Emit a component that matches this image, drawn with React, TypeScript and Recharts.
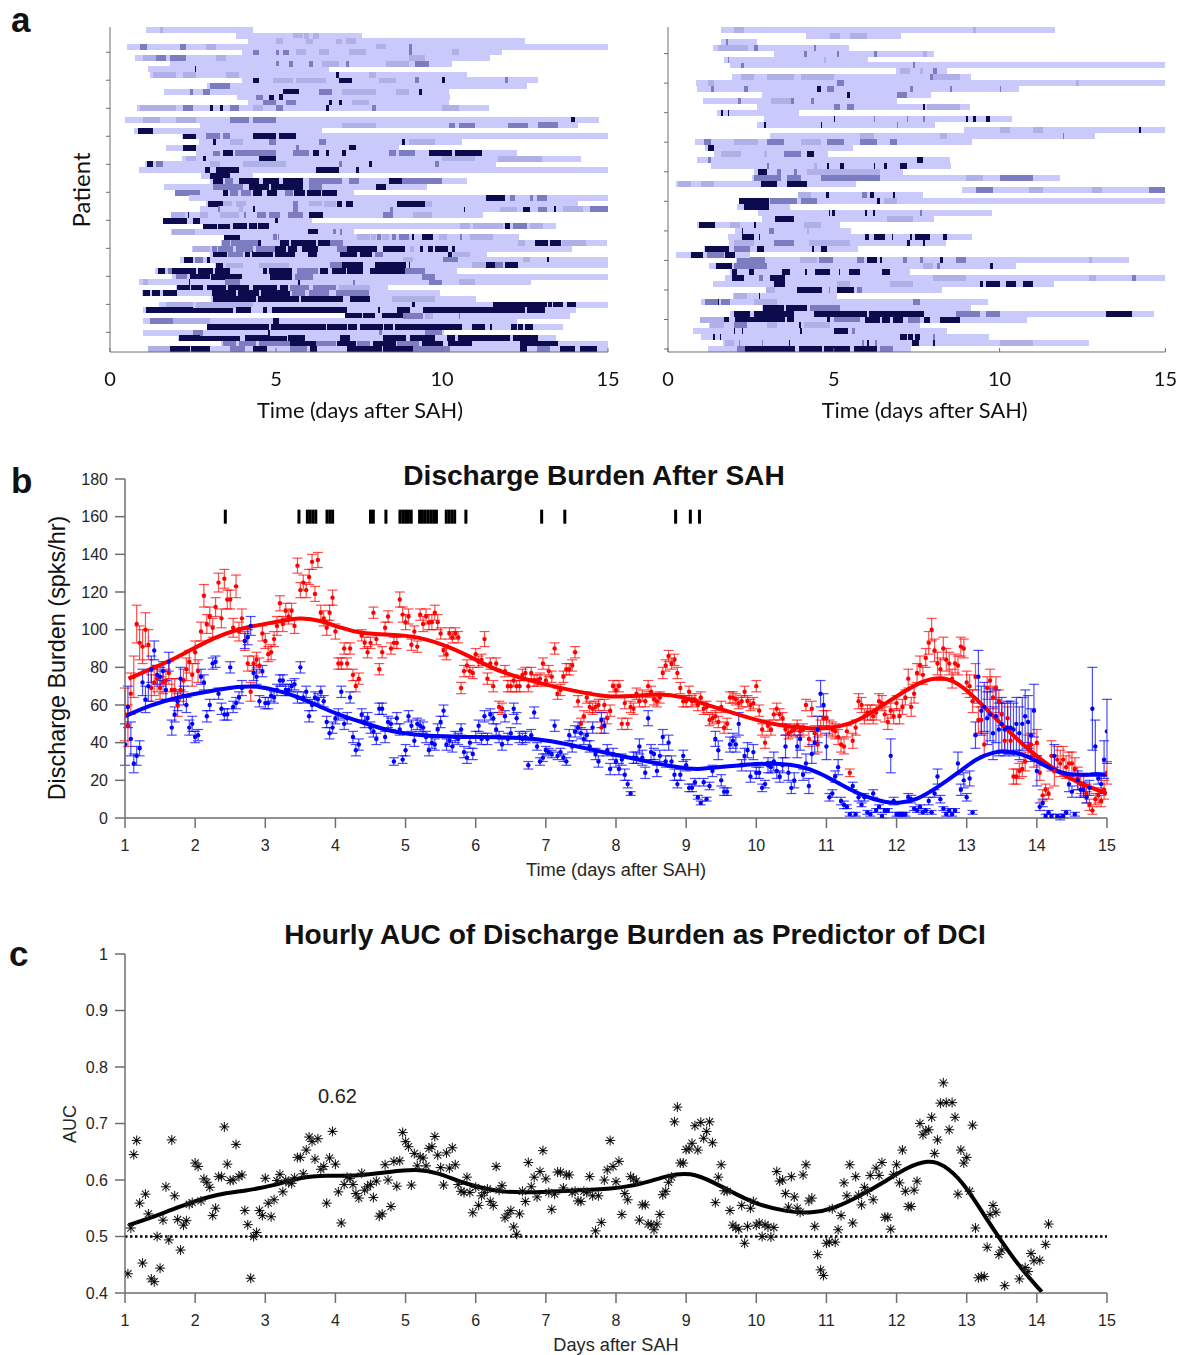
import React from 'react'
import {
  Bar,
  BarChart,
  ComposedChart,
  ErrorBar,
  Line,
  ReferenceLine,
  Scatter,
  XAxis,
  YAxis,
} from 'recharts'

const SANS = '"Liberation Sans", Arial, sans-serif'
const HUMANIST = 'Lato, "Open Sans", sans-serif'
const AXIS_GRAY = '#6e6e6e'
const BASE_BAR = '#c9c9fb'
const LEVELS = ['', '#b0b0e8', '#7c7cc0', '#0b0b4d']

// panel a: [first day, last day] of each patient's recording, top to bottom
const leftSpans = [
  [1.08, 4.3], [3.8, 7.6], [4.16, 12.5], [0.5, 15], [3.97, 11.8], [0.75, 11.45], [1.82, 10.3], [1.13, 6.6],
  [1.2, 10.76], [3.97, 12.9], [2.92, 12.56], [1.63, 10.2], [3.83, 10.24], [4.16, 10.2], [0.8, 11.43], [0, 0],
  [0.46, 14.74], [2.7, 14.1], [0.73, 6.4], [2.18, 15], [2.67, 10.6], [1.68, 8.69], [2.6, 12.26], [2.18, 14.2],
  [1.04, 11.63], [0.87, 15], [2.75, 4.3], [3, 10.76], [1.63, 9.56], [1.97, 7.34], [2.37, 15], [2.9, 14.1],
  [2.7, 15], [1.85, 11.24], [1.59, 6.09], [2.8, 13.43], [1.85, 7.34], [3.44, 12.32], [3.33, 14.97], [2.48, 13.92],
  [3, 11.37], [2.1, 15], [3.17, 15], [1.35, 10.44], [1.87, 15], [0.87, 12.67], [1.98, 8.38], [0.97, 9.93],
  [3.05, 11.03], [1.47, 15], [0.99, 14.05], [7.07, 13.87], [0.99, 12.26], [2.93, 13.65], [0.99, 10.05], [2.06, 13.42],
  [3.35, 15], [1.13, 15],
]

// flat triples per patient: burst start, burst end, intensity level 1-3
const leftBursts = [
  [1.5, 1.6, 1],
  [5.5, 5.8, 1, 5.85, 6, 1, 6.1, 6.3, 1],
  [5, 5.2, 1, 5.9, 6.1, 1, 6.8, 7, 1, 7.1, 7.4, 1],
  [0.9, 1.1, 2, 2.1, 2.3, 2, 2.9, 3.2, 1, 8, 8.3, 1, 9, 9.1, 2],
  [4.3, 4.5, 2, 5, 5.1, 2, 5.2, 5.4, 2, 5.6, 5.9, 1, 6.3, 6.6, 1, 7.2, 7.7, 1, 9, 9.1, 2, 10.3, 10.5, 1],
  [1, 1.4, 1, 1.4, 1.7, 2, 1.8, 2.3, 2, 3.2, 3.5, 1, 9, 9.5, 1],
  [5, 5.1, 2, 5.4, 5.5, 2, 6, 6.1, 2, 6.4, 6.9, 1, 7.1, 7.2, 2, 8.3, 9, 1, 9.2, 9.6, 2],
  [2.55, 2.6, 3],
  [1.3, 2, 1, 2.2, 2.6, 1, 3.5, 3.9, 1, 6.8, 6.9, 3, 7.8, 8, 1],
  [4.3, 4.5, 3, 4.9, 5.5, 1, 5.6, 6.5, 1, 6.9, 7.3, 3, 8.1, 8.6, 1, 9.2, 9.3, 2, 10, 10.1, 3, 11.9, 12, 2],
  [3, 3.6, 2],
  [2.4, 2.5, 2, 2.8, 3, 2, 5.2, 5.7, 3, 6.3, 6.7, 2, 7, 8, 1, 8.6, 9, 1, 9.3, 9.4, 3],
  [4.4, 4.6, 2, 4.8, 4.95, 3, 5.1, 5.2, 3],
  [4.6, 5, 2, 5.3, 5.6, 2, 6.6, 6.7, 3, 6.9, 7, 3, 7.3, 7.8, 1],
  [0.9, 2, 1, 2.2, 2.5, 2, 3, 3.1, 3, 3.3, 3.4, 3, 3.6, 3.9, 2, 4.3, 4.6, 1, 5, 5.2, 2, 6.5, 6.6, 3, 7.9, 8, 2, 10, 10.5, 1],
  [],
  [1, 1.5, 1, 2, 2.6, 1, 3.6, 4.2, 2, 4.3, 5, 2, 13.9, 14, 3],
  [7, 8, 1, 10.2, 10.4, 2, 10.5, 11, 2, 12, 12.6, 2, 12.9, 13.5, 2],
  [0.85, 1.3, 3],
  [2.2, 2.6, 3, 2.9, 3.3, 2, 3.4, 3.6, 2, 4.3, 5, 3, 5.1, 5.6, 3],
  [3.1, 3.2, 3, 3.6, 4, 1, 4.8, 5, 2, 6.3, 6.5, 2, 8.8, 8.9, 3, 9, 9.8, 1],
  [2.2, 2.6, 3, 5.6, 5.7, 2, 7.2, 7.4, 3],
  [3.1, 3.3, 2, 3.4, 3.7, 3, 3.75, 5, 2, 5.5, 6, 2, 6.1, 6.3, 3, 6.5, 6.6, 3, 7, 7.1, 3, 8.4, 8.6, 2, 8.7, 9.2, 2, 9.6, 10.3, 3, 10.4, 11.2, 3],
  [2.3, 2.6, 1, 2.8, 2.9, 3, 4.5, 5, 3, 10, 11, 1, 11.7, 13, 1],
  [1.1, 1.3, 3, 1.4, 1.6, 2, 3, 3.3, 1, 4, 5.3, 1, 6.9, 7, 2, 7.8, 7.9, 3, 9.8, 9.9, 2],
  [2.85, 3, 3, 3.2, 3.9, 3, 6.2, 6.9, 3, 7.4, 7.5, 3],
  [3, 3.6, 3],
  [3.1, 3.4, 3, 3.45, 3.7, 2, 3.9, 4.5, 3, 4.6, 5.1, 3, 5.2, 5.8, 3, 6, 7, 2, 7.2, 7.5, 2, 8.4, 8.8, 3, 8.8, 10, 2],
  [3.1, 4, 2, 4.2, 4.8, 3, 4.85, 5.8, 3, 6, 6.4, 2, 8, 8.3, 3],
  [1.96, 2.71, 2, 3.41, 3.56, 3, 3.6, 3.85, 2, 3.95, 4.25, 2, 4.3, 4.57, 3, 4.72, 5.02, 3, 5.27, 5.5, 2, 5.55, 5.87, 3, 5.92, 6.37, 3, 6.4, 6.83, 3],
  [11.34, 11.9, 3, 12.05, 12.2, 2, 12.65, 12.75, 2, 12.85, 13.15, 2],
  [2.96, 3.41, 3, 3.41, 3.67, 1, 3.8, 4.1, 1, 5.52, 5.67, 2, 6, 6.4, 1, 6.45, 6.8, 1, 6.85, 6.98, 3, 7.11, 7.31, 3, 8.63, 9.49, 3, 9.49, 9.69, 1],
  [3.25, 3.31, 2, 3.9, 4, 1, 4.3, 4.37, 3, 5.52, 5.67, 2, 8.43, 8.53, 2, 10.66, 10.7, 3, 11.75, 12.25, 1, 12.45, 12.65, 3, 12.9, 13.15, 2, 13.37, 13.43, 3, 13.65, 14.25, 1, 14.46, 15, 2],
  [1.85, 2.26, 1, 2.35, 2.38, 3, 2.7, 2.95, 1, 3.3, 3.9, 1, 4.05, 4.1, 2, 4.42, 4.7, 2, 4.8, 5.12, 2, 5.37, 5.82, 2, 6, 6.43, 3, 8.23, 8.53, 2, 9.14, 9.69, 1],
  [1.6, 2.31, 3, 2.51, 2.71, 3, 4.97, 5.07, 3],
  [2.81, 3.21, 3, 3.26, 3.61, 3, 3.71, 4.12, 3, 4.2, 4.42, 3, 4.47, 4.79, 3, 10.54, 10.84, 1, 10.94, 11.85, 1, 11.9, 12.05, 3, 12.15, 12.55, 2, 12.65, 13.05, 1],
  [1.86, 2.56, 1, 5.97, 6.27, 3, 6.73, 6.8, 2, 6.92, 6.98, 2],
  [3.44, 3.92, 3, 4.92, 5.02, 2, 5.05, 5.1, 2, 7.43, 7.83, 1, 7.85, 8, 1, 8.05, 8.15, 2, 8.2, 8.4, 1, 8.5, 8.6, 2, 8.7, 9, 2, 9.1, 9.15, 3, 9.39, 9.74, 3, 9.9, 10.15, 1, 10.55, 10.6, 2, 10.84, 11.55, 1],
  [3.36, 3.6, 2, 3.65, 3.97, 2, 3.97, 4.45, 2, 4.47, 4.54, 3, 5.12, 5.4, 3, 5.45, 5.82, 3, 5.82, 6.2, 3, 6.25, 6.63, 3, 6.63, 7.03, 2, 12.3, 12.5, 1, 12.8, 13.2, 3, 13.25, 13.57, 3, 13.6, 14.35, 1],
  [2.51, 3.01, 1, 3.06, 3.21, 2, 3.26, 3.7, 2, 3.8, 4.3, 2, 4.4, 4.97, 2, 4.97, 5.3, 3, 5.35, 5.62, 3, 5.77, 6.27, 3, 6.83, 7.13, 2, 7.13, 7.83, 3, 7.83, 8.03, 3, 8.23, 8.9, 3, 9.03, 9.15, 1, 9.33, 9.43, 3, 9.59, 9.72, 3, 9.79, 10.19, 3, 10.29, 10.39, 3],
  [3.11, 3.51, 3, 3.56, 4.02, 2, 4.07, 4.22, 3, 4.27, 4.92, 3, 4.97, 5.57, 3, 5.97, 6.22, 3, 6.93, 7.43, 3, 7.53, 7.9, 3, 7.98, 8.23, 2, 10.19, 10.29, 3, 10.34, 10.84, 1],
  [2.23, 2.49, 3, 2.56, 2.81, 2, 2.91, 3.01, 3, 8.84, 9.14, 1, 10.04, 10.49, 2, 12.45, 12.65, 1, 13.17, 13.22, 3],
  [3.19, 3.41, 3, 3.5, 4, 1, 4.5, 5.4, 1, 6.63, 7, 2, 7, 7.63, 3, 7.98, 8.93, 3, 9.01, 9.05, 3, 10.9, 11.34, 1, 11.34, 11.6, 3, 11.6, 11.85, 2, 11.9, 12.3, 3],
  [1.45, 1.66, 3, 1.76, 1.86, 2, 1.86, 2.6, 3, 2.65, 3.1, 3, 3.15, 3.61, 3, 4.6, 4.72, 3, 4.8, 5.12, 3, 5.12, 5.47, 3, 5.62, 6.27, 2, 6.34, 6.57, 3, 6.68, 7.1, 3, 7.15, 7.63, 3, 7.83, 8.88, 3, 8.88, 9.49, 2],
  [2, 2.31, 2, 2.41, 3, 3, 3.05, 3.97, 3, 4.82, 5.47, 3, 5.57, 6.12, 2, 9.4, 9.8, 2],
  [1, 1.15, 1, 2.38, 2.42, 3, 3.46, 3.92, 2, 5.67, 5.71, 3, 7.33, 7.38, 2, 9.6, 10, 2, 10.5, 11, 1],
  [2.01, 2.4, 3, 2.45, 2.81, 3, 2.91, 3.5, 3, 3.55, 4.2, 3, 4.3, 5.02, 3, 5.12, 5.37, 3, 5.42, 6, 2, 6.1, 6.8, 2, 6.9, 7.83, 1],
  [1, 1.2, 3, 1.25, 1.5, 3, 1.6, 2.01, 3, 3.06, 3.8, 3, 3.85, 4.5, 3, 4.55, 5.42, 3, 5.47, 5.87, 2, 6, 6.6, 2, 6.8, 7.8, 2],
  [2.01, 2.11, 3, 3.11, 4.4, 3, 4.45, 5.7, 3, 5.75, 7.03, 3, 7.23, 7.83, 3, 8.5, 9.8, 1],
  [1.7, 2.5, 1, 2.6, 4.3, 1, 9.1, 9.2, 3, 11.55, 13.15, 3, 13.2, 13.3, 3, 13.35, 13.65, 3, 13.77, 14.05, 3],
  [1.09, 3.71, 3, 3.81, 4.24, 3, 4.62, 4.72, 3, 4.87, 7.13, 3, 8.08, 8.13, 3, 8.63, 9.05, 3, 9.42, 11.29, 3, 11.29, 12.5, 3, 12.55, 13.1, 3],
  [7.08, 7.58, 3, 7.63, 7.98, 3, 8.18, 8.83, 3, 8.83, 9.44, 2, 9.49, 9.74, 1, 10.5, 10.55, 2],
  [1.2, 1.91, 2, 1.91, 3, 1, 4.9, 5.1, 3],
  [2.91, 4.8, 3, 4.85, 6.5, 3, 6.55, 7.13, 3, 7.18, 7.43, 3, 7.53, 8.21, 3, 8.25, 8.53, 3, 8.58, 10.59, 3, 10.89, 11.29, 3, 11.44, 11.51, 3, 12.07, 12.25, 3, 12.3, 12.45, 3, 12.5, 12.75, 3],
  [2.5, 2.7, 2, 2.56, 2.8, 2, 4.75, 4.82, 3, 8.1, 8.2, 2, 9.5, 10, 2],
  [2.09, 3.92, 3, 4.06, 5.32, 3, 5.37, 5.87, 3, 6.93, 7.23, 3, 8.23, 8.93, 3, 9.03, 9.79, 3, 10.14, 10.39, 3, 10.49, 12.05, 3, 12.15, 12.9, 3],
  [3.41, 3.8, 2, 3.9, 4.4, 2, 4.5, 5.42, 2, 5.42, 6.2, 3, 6.2, 6.8, 2, 6.85, 7.4, 3, 7.45, 7.83, 2, 7.93, 8.6, 3, 8.65, 9.3, 2, 9.4, 10.04, 3, 10.19, 10.89, 3, 12.35, 13.5, 3],
  [1.15, 1.8, 1, 1.81, 2.4, 3, 2.45, 3.01, 3, 3.61, 4.06, 2, 4.32, 4.72, 3, 5.42, 5.92, 2, 6.02, 6.22, 3, 7.13, 7.83, 3, 7.83, 8.18, 3, 8.23, 9.14, 3, 9.14, 10.24, 2, 12.35, 12.55, 3, 12.85, 13.25, 2, 13.55, 14, 3, 14.15, 14.66, 3],
]

const rightSpans = [
  [1.6, 11.68], [4.16, 7.02], [1.6, 2.69], [1.35, 5.46], [3.2, 8.02], [1.68, 6.02], [1.88, 15], [6.87, 8.42],
  [1.94, 9.15], [0.83, 15], [0.87, 10.6], [2.84, 7.93], [1.05, 6.92], [2.68, 9.12], [1.47, 3.96], [2.9, 10.38],
  [2.67, 8.05], [8.94, 15], [3.09, 12.87], [0.8, 9.18], [1.13, 5.59], [1.39, 4.84], [0.87, 8.49], [1.31, 8.53],
  [2.58, 7.09], [2.53, 11.81], [0.23, 5.67], [8.88, 15], [3.91, 7.69], [2.13, 15], [2.07, 3.69], [2.71, 9.78],
  [2.82, 8.02], [0.87, 5.2], [2.01, 5.52], [1.82, 9.18], [1.85, 8.37], [1.08, 5.72], [0.23, 2.47], [2.05, 13.9],
  [1.24, 10.5], [1.88, 7.31], [1.73, 15], [1.36, 11.64], [2.95, 8.27], [1.96, 5.09], [1, 9.66], [2.84, 9.15],
  [1.88, 14.66], [0.98, 10.82], [1.24, 7.59], [0.75, 8.41], [1, 9.69], [1.67, 12.7], [1.21, 7.33],
]

const rightBursts = [
  [2, 2.3, 1, 9.2, 9.3, 1],
  [4.9, 5.2, 1, 5.5, 6, 1],
  [1.75, 1.8, 2],
  [1.5, 2.4, 1, 2.6, 2.7, 2, 4.4, 4.45, 2],
  [4.1, 4.2, 2, 5.1, 5.15, 2, 6.2, 6.3, 2, 7.7, 7.8, 1],
  [1.8, 1.85, 2, 4.7, 4.75, 1],
  [2.2, 2.3, 2, 7.4, 7.45, 2],
  [7, 7.3, 1, 7.6, 7.7, 1, 8, 8.1, 2],
  [2.2, 2.6, 1, 3, 3.8, 1, 4, 5, 1, 7.9, 8, 2, 8, 8.8, 1],
  [1.2, 1.4, 1, 5.1, 5.3, 2, 12.3, 12.4, 1],
  [1.3, 1.4, 2, 2.3, 2.4, 2, 4.5, 4.6, 3, 4.8, 5, 2, 7.3, 7.4, 2, 8.5, 8.55, 2, 10, 10.05, 2],
  [5.4, 5.5, 3, 6.9, 7.2, 2],
  [2.1, 2.2, 2, 3.1, 3.7, 1, 3.7, 3.8, 2, 4.3, 4.4, 2],
  [5, 5.2, 2, 5.4, 5.6, 2, 7.7, 7.75, 3, 7.8, 8.8, 1],
  [1.6, 1.65, 3, 1.8, 1.85, 3],
  [5, 5.05, 3, 6.2, 6.25, 2, 7.2, 7.25, 2, 7.7, 7.75, 2, 9, 9.05, 3, 9.2, 9.3, 3, 9.6, 9.7, 3],
  [2.9, 2.95, 3, 4.6, 4.65, 3, 6.9, 6.95, 2],
  [10, 10.3, 1, 11, 11.3, 1, 14.2, 14.25, 3],
  [5.8, 6.2, 1, 8.2, 8.4, 1, 11.9, 11.95, 2],
  [1.1, 1.3, 2, 2, 2.7, 1, 3, 3.5, 2, 4, 4.6, 1, 4.8, 5.3, 2, 5.8, 6.3, 2, 6.7, 6.9, 2],
  [1.2, 1.4, 3],
  [1.6, 2.2, 1, 2.9, 3, 1, 3.5, 4, 2, 4.2, 4.4, 3],
  [1.2, 1.3, 2, 7.5, 7.7, 3],
  [3, 3.05, 2, 4.4, 4.5, 1, 4.8, 4.85, 3, 5.2, 5.3, 3, 6.2, 6.25, 3, 6.5, 6.6, 3, 7, 7.2, 3],
  [2.7, 3, 3, 3.3, 3.4, 2, 3.8, 3.9, 2, 4.2, 6.4, 1],
  [2.6, 3.4, 2, 3.6, 4, 2, 4.6, 6.4, 2, 9, 9.5, 1, 10, 11, 2],
  [0.3, 0.7, 1, 1, 1.4, 1, 2.8, 3.3, 3, 3.6, 4.2, 3],
  [9.3, 9.8, 2, 10.9, 11.3, 1, 12.8, 13.1, 1, 14.5, 15, 2],
  [3.9, 4.3, 1, 4.75, 4.85, 3, 5.85, 6, 2, 6.1, 6.2, 3, 6.8, 6.85, 3],
  [2.13, 2.28, 3, 2.28, 3.04, 3, 3.09, 3.9, 2, 4, 4.5, 2, 6.3, 6.4, 3, 6.5, 6.9, 1],
  [2.28, 3.04, 3],
  [4.85, 4.9, 3, 4.95, 5.03, 3, 5.95, 6, 3, 6.18, 6.23, 3, 7.6, 7.65, 2],
  [3.24, 3.81, 3, 6.6, 7.4, 1],
  [0.93, 1.43, 3, 1.88, 2.18, 1, 2.6, 2.65, 3, 4.1, 4.6, 1],
  [2.23, 2.27, 3, 3.04, 3.19, 2, 4.2, 4.25, 1],
  [2.23, 2.58, 3, 2.73, 2.77, 3, 5.95, 6.05, 3, 6.2, 6.55, 3, 6.76, 6.8, 3, 7.3, 7.35, 3, 7.46, 7.91, 3, 8.3, 8.4, 3],
  [1.98, 2.58, 1, 3.19, 3.8, 2, 4.25, 5.5, 1, 7.2, 7.3, 3, 7.7, 7.75, 3],
  [1.13, 1.83, 3, 1.98, 2.48, 2, 2.69, 2.89, 3, 4.34, 4.4, 3, 4.6, 4.8, 3],
  [0.68, 1.06, 3, 1.18, 1.68, 2, 1.73, 2.03, 3],
  [2.08, 2.58, 2, 2.58, 2.93, 2, 3.99, 4.5, 1, 4.54, 4.99, 2, 5.7, 5.9, 2, 6, 6.3, 3, 6.4, 6.45, 3, 7.1, 7.2, 2, 7.6, 7.7, 2, 8.2, 8.3, 3, 8.7, 9, 2, 12.7, 12.8, 1],
  [1.46, 1.93, 3, 1.98, 2.99, 2, 7.7, 8, 1, 8.1, 8.2, 2, 9.7, 9.8, 3],
  [1.93, 2.08, 3, 2.43, 2.58, 3, 3.44, 3.69, 3, 4.14, 4.2, 3, 4.44, 4.9, 3, 5.15, 5.2, 3, 5.45, 5.8, 3, 6.45, 6.7, 3],
  [1.93, 2.28, 3, 2.73, 2.88, 2, 3.09, 3.54, 3, 8, 9, 1, 12.7, 12.9, 1, 14, 14.1, 2],
  [3.19, 3.54, 3, 5.1, 5.5, 1, 6.7, 7.4, 1, 9.4, 9.5, 3, 9.6, 10, 3, 10.2, 10.5, 3, 10.7, 11, 3],
  [2.94, 3.24, 1, 3.89, 4.64, 3, 4.85, 4.9, 2, 5.1, 5.6, 3, 5.7, 5.85, 2],
  [1.98, 2.38, 1, 2.73, 2.78, 3],
  [1.13, 1.5, 2, 1.5, 1.55, 3, 1.6, 1.88, 2, 2.58, 3.29, 1, 7.4, 7.6, 2],
  [2.87, 3.5, 3, 3.55, 4.19, 3, 4.29, 5.2, 2],
  [2, 2.48, 3, 2.58, 3.79, 3, 4.39, 4.9, 3, 4.9, 6, 3, 6.05, 7.71, 3, 8.7, 9.4, 2, 9.6, 10, 2, 13.2, 14, 3],
  [0.98, 1.68, 1, 1.68, 1.83, 3, 2.03, 2.84, 3, 2.84, 3.54, 3, 3.59, 3.79, 3, 4.79, 4.9, 3, 5, 5.8, 2, 5.95, 6.4, 3, 6.45, 6.7, 3, 6.8, 7.1, 3, 7.25, 7.6, 2, 7.71, 7.9, 3, 8.2, 8.8, 3],
  [1.28, 1.68, 1, 1.98, 2.38, 2, 2.98, 3.29, 1, 3.94, 4, 3, 4.1, 4.9, 1],
  [2, 2.03, 3, 2.23, 2.27, 3, 3.99, 4.03, 3, 5, 5.42, 3, 5.55, 5.65, 2],
  [1.36, 1.43, 3, 1.58, 1.6, 3, 7, 7.2, 3, 7.25, 7.4, 3, 7.45, 7.6, 3, 8, 8.05, 2],
  [1.73, 1.98, 1, 2.13, 2.18, 2, 2.83, 2.88, 2, 3.64, 3.68, 3, 5.85, 5.9, 2, 6, 6.05, 3, 6.25, 6.3, 2, 7.36, 7.56, 3, 8, 8.05, 3, 10, 11, 1],
  [2.08, 2.33, 2, 2.33, 3.09, 3, 3.09, 3.84, 3, 3.94, 4.64, 3, 4.7, 5.5, 3, 5.6, 6.3, 3, 6.4, 6.8, 2],
]

const leftPatientTicks = [4, 9, 14, 19, 24, 29, 34, 39, 44, 49, 54]
const dayTicksA = [0, 5, 10, 15]
const dayTicks = [1, 2, 3, 4, 5, 6, 7, 8, 9, 10, 11, 12, 13, 14, 15]
const burdenTicks = [0, 20, 40, 60, 80, 100, 120, 140, 160, 180]
const aucTicks = [0.4, 0.5, 0.6, 0.7, 0.8, 0.9, 1]

// panel b, one value per hour from day 1 to day 15
const redBurden = [
  55, 49, 66, 75, 103, 93, 91, 100, 92, 69, 72, 74, 69, 72, 73, 77, 68, 68, 60, 68, 73, 79, 83, 76,
  88, 78, 99, 118, 103, 107, 101, 112, 125, 106, 127, 116, 116, 101, 123, 99, 106, 94, 82, 67, 82, 84, 81, 98,
  94, 87, 88, 95, 102, 114, 103, 110, 107, 110, 102, 134, 121, 125, 121, 128, 136, 119, 137, 109, 106, 101, 109, 117,
  99, 82, 82, 90, 82, 90, 76, 70, 74, 97, 93, 88, 93, 109, 95, 79, 88, 101, 107, 90, 93, 93, 116, 108,
  104, 107, 92, 99, 91, 108, 103, 107, 104, 104, 109, 104, 98, 89, 87, 98, 96, 98, 96, 69, 78, 81, 78, 77,
  87, 83, 84, 95, 74, 82, 70, 82, 59, 58, 78, 70, 70, 73, 70, 70, 76, 77, 70, 77, 73, 73, 74, 82,
  73, 78, 75, 90, 66, 68, 75, 79, 79, 81, 88, 62, 50, 54, 64, 59, 58, 59, 60, 48, 60, 53, 57, 70,
  68, 70, 50, 61, 50, 59, 58, 66, 62, 65, 62, 70, 67, 63, 62, 64, 77, 81, 86, 82, 84, 77, 69, 62,
  62, 67, 62, 63, 60, 64, 58, 59, 52, 53, 54, 51, 59, 48, 50, 64, 64, 63, 61, 62, 67, 62, 60, 61,
  70, 57, 47, 40, 49, 47, 55, 58, 55, 53, 47, 45, 46, 47, 49, 46, 47, 60, 42, 58, 45, 39, 48, 53,
  53, 48, 47, 46, 43, 39, 38, 46, 24, 41, 48, 62, 60, 54, 56, 56, 54, 56, 62, 61, 55, 51, 57, 54,
  61, 54, 59, 64, 74, 59, 66, 77, 81, 76, 85, 93, 100, 89, 82, 79, 90, 84, 82, 74, 82, 81, 91, 90,
  72, 70, 62, 75, 52, 52, 39, 69, 73, 64, 69, 62, 55, 41, 53, 41, 22, 22, 25, 26, 30, 38, 39, 33,
  40, 24, 12, 15, 13, 33, 25, 31, 29, 31, 27, 29, 29, 26, 21, 18, 17, 13, 7, 4, 10, 12, 9, 15,
  24,
]

const redError = [
  14, 11, 11, 11, 10, 9, 9, 9, 8, 7, 7, 7, 6, 6, 6, 6, 6, 6, 6, 6, 6, 6, 6, 6,
  6, 6, 5, 6, 5, 5, 5, 5, 5, 5, 5, 5, 5, 5, 6, 5, 5, 5, 4, 5, 4, 4, 4, 4,
  4, 4, 4, 4, 5, 4, 4, 4, 4, 4, 4, 4, 4, 4, 4, 4, 4, 4, 4, 4, 4, 4, 4, 4,
  4, 3, 3, 3, 3, 3, 3, 3, 3, 3, 3, 3, 3, 3, 3, 3, 3, 3, 3, 3, 3, 3, 4, 4,
  4, 4, 3, 3, 3, 3, 4, 4, 4, 4, 4, 4, 3, 3, 3, 3, 3, 3, 3, 3, 3, 3, 3, 3,
  3, 3, 3, 4, 3, 3, 3, 3, 3, 3, 3, 3, 3, 3, 3, 3, 3, 3, 3, 3, 3, 3, 3, 3,
  3, 3, 3, 3, 3, 3, 3, 3, 3, 3, 3, 3, 3, 3, 3, 3, 3, 3, 3, 3, 3, 3, 3, 3,
  3, 3, 3, 3, 3, 3, 3, 3, 3, 3, 3, 3, 3, 3, 3, 3, 3, 3, 3, 3, 3, 3, 3, 3,
  3, 3, 3, 3, 3, 3, 3, 3, 3, 3, 3, 3, 3, 3, 3, 3, 3, 3, 3, 3, 3, 3, 3, 3,
  3, 3, 3, 3, 3, 3, 3, 3, 3, 3, 3, 3, 3, 3, 3, 3, 3, 3, 4, 4, 4, 4, 4, 4,
  4, 4, 4, 4, 4, 4, 4, 3, 2, 4, 4, 4, 4, 4, 4, 4, 4, 4, 4, 4, 4, 4, 4, 4,
  4, 4, 4, 4, 5, 5, 5, 5, 5, 5, 5, 6, 6, 6, 6, 6, 6, 6, 6, 5, 5, 5, 5, 5,
  6, 6, 6, 7, 7, 7, 6, 6, 6, 6, 6, 6, 6, 6, 6, 6, 4, 4, 4, 4, 5, 6, 6, 6,
  7, 4, 3, 3, 3, 8, 8, 7, 7, 7, 6, 6, 6, 6, 6, 5, 5, 5, 3, 2, 3, 4, 3, 5,
  6,
]

const blueBurden = [
  39, 59, 42, 29, 33, 37, 72, 63, 70, 79, 89, 76, 75, 78, 68, 83, 48, 55, 62, 74, 65, 60, 48, 50,
  43, 44, 75, 72, 54, 60, 82, 83, 66, 58, 55, 55, 80, 59, 61, 64, 69, 94, 96, 102, 77, 75, 62, 78,
  61, 61, 65, 64, 68, 73, 73, 68, 68, 70, 71, 64, 80, 64, 67, 54, 60, 64, 63, 67, 62, 51, 45, 48,
  53, 55, 67, 50, 53, 64, 43, 36, 39, 55, 51, 53, 48, 46, 42, 58, 58, 43, 51, 50, 30, 53, 47, 31,
  36, 54, 49, 41, 50, 49, 48, 43, 36, 40, 39, 47, 51, 57, 39, 41, 38, 43, 42, 47, 35, 32, 40, 34,
  43, 49, 42, 54, 42, 55, 53, 47, 43, 39, 54, 42, 45, 58, 53, 43, 42, 43, 28, 44, 56, 38, 30, 32,
  36, 35, 34, 49, 33, 35, 32, 30, 44, 38, 46, 48, 45, 42, 44, 38, 48, 34, 30, 52, 49, 36, 26, 34,
  30, 26, 31, 23, 18, 13, 32, 32, 38, 32, 24, 53, 35, 34, 25, 33, 43, 30, 40, 30, 23, 18, 23, 33,
  28, 16, 16, 19, 11, 8, 19, 10, 17, 25, 42, 36, 20, 14, 14, 39, 41, 39, 50, 28, 33, 36, 22, 35,
  24, 24, 16, 18, 28, 27, 30, 25, 22, 28, 38, 24, 16, 20, 38, 42, 23, 29, 17, 34, 40, 47, 66, 60,
  38, 11, 13, 22, 27, 9, 7, 6, 2, 17, 2, 11, 7, 11, 3, 2, 13, 4, 6, 1, 4, 4, 33, 9,
  2, 2, 2, 2, 11, 10, 5, 4, 6, 3, 4, 9, 3, 13, 22, 10, 5, 2, 4, 2, 4, 29, 15, 20,
  11, 21, 3, 44, 75, 57, 59, 53, 55, 45, 54, 47, 50, 47, 48, 48, 47, 50, 45, 50, 54, 51, 44, 57,
  25, 6, 8, 1, 3, 1, 33, 1, 0, 1, 3, 18, 14, 2, 20, 15, 15, 11, 16, 58, 38, 21, 18, 31,
  46,
]

const blueError = [
  11, 11, 9, 5, 5, 4, 7, 7, 8, 7, 5, 5, 5, 5, 5, 5, 4, 4, 5, 6, 5, 4, 4, 4,
  3, 3, 4, 4, 3, 3, 3, 3, 3, 3, 3, 3, 3, 3, 3, 3, 4, 4, 4, 5, 4, 4, 3, 3,
  3, 3, 3, 3, 3, 3, 3, 3, 3, 3, 3, 3, 3, 3, 3, 3, 3, 3, 3, 3, 3, 3, 3, 3,
  3, 3, 3, 3, 3, 3, 3, 3, 3, 3, 3, 3, 3, 3, 3, 3, 3, 3, 3, 3, 2, 3, 3, 2,
  3, 3, 3, 3, 3, 3, 3, 3, 3, 3, 3, 3, 3, 3, 3, 3, 3, 3, 3, 3, 3, 3, 3, 3,
  3, 3, 3, 3, 3, 3, 3, 3, 3, 3, 3, 3, 3, 3, 3, 3, 3, 3, 2, 3, 3, 2, 2, 2,
  2, 2, 2, 3, 2, 2, 2, 2, 3, 3, 3, 3, 3, 3, 3, 3, 3, 3, 3, 4, 4, 3, 3, 3,
  3, 3, 3, 3, 2, 1, 3, 3, 4, 4, 3, 4, 4, 3, 3, 3, 4, 3, 4, 3, 3, 2, 3, 3,
  3, 2, 2, 2, 1, 1, 2, 1, 2, 3, 4, 5, 3, 2, 2, 4, 4, 4, 6, 3, 4, 4, 3, 4,
  3, 3, 2, 2, 4, 3, 5, 4, 3, 4, 6, 4, 3, 4, 6, 6, 3, 5, 4, 5, 6, 7, 7, 6,
  7, 2, 2, 3, 4, 2, 2, 1, 1, 2, 1, 2, 1, 2, 1, 1, 2, 1, 1, 1, 1, 1, 9, 2,
  1, 1, 1, 1, 2, 2, 1, 1, 1, 1, 1, 2, 1, 2, 4, 2, 1, 1, 1, 1, 1, 6, 3, 4,
  2, 4, 1, 7, 14, 13, 13, 14, 14, 14, 14, 14, 14, 14, 14, 14, 14, 14, 14, 14, 14, 14, 14, 14,
  8, 2, 2, 1, 1, 1, 6, 1, 1, 1, 1, 4, 3, 1, 5, 4, 4, 3, 4, 22, 14, 3, 5, 10,
  17,
]

const redTrendDays = [1.05, 1.36, 1.74, 2.16, 2.64, 3.16, 3.5, 3.78, 4.07, 4.35, 4.78, 5.16, 5.63, 6.06, 6.35, 6.77, 7.2, 7.87, 8.2, 8.63, 8.9, 9.38, 9.86, 10.3, 10.8, 11.05, 11.34, 11.57, 12.05, 12.38, 12.6, 12.8, 13.1, 13.48, 13.95, 14.24, 14.56, 15]
const redTrend = [74, 79, 85, 94, 101, 104, 106.7, 105, 101, 98, 97.3, 96.6, 91, 83, 77.5, 73, 69, 64, 64.6, 66, 65, 59, 53.6, 49, 47.4, 47.6, 50, 54, 66, 73, 74.7, 73.6, 65, 50, 34, 26, 19, 13]
const blueTrendDays = [1, 1.36, 1.74, 2.16, 2.64, 2.88, 3.16, 3.5, 3.78, 4.07, 4.45, 4.78, 5.16, 5.63, 6.35, 6.77, 7.2, 7.57, 8.06, 8.44, 8.91, 9.15, 9.48, 9.86, 10.24, 10.62, 10.9, 11.1, 11.48, 11.86, 12.05, 12.29, 12.6, 12.9, 13.14, 13.38, 13.58, 13.86, 14.19, 14.43, 14.66, 15]
const blueTrend = [54, 60, 64, 67, 70, 70, 68, 64, 59, 54.5, 50, 46, 44, 43, 43, 42.5, 40, 37, 33, 30, 26.7, 25.7, 27, 28.5, 29, 28, 24, 20, 12, 8, 8, 9.5, 16.6, 24.6, 31.7, 35, 35.7, 33.5, 26, 23, 23, 23]

// days with a significant difference between groups, top of panel b
const significantDays = [
  2.43, 3.48, 3.6, 3.64, 3.68, 3.72, 3.88, 3.92, 3.96, 4.5, 4.54, 4.72, 4.92, 4.96, 5, 5.04, 5.08, 5.2, 5.24, 5.28,
  5.32, 5.36, 5.4, 5.44, 5.58, 5.62, 5.66, 5.7, 5.86, 6.94, 7.27, 8.85, 9.06, 9.19,
]

// panel c, hourly AUC (null where it falls under the axis)
const hourlyAuc = [
  null, 0.434, 0.515, 0.645, 0.67, 0.559, 0.453, 0.575, 0.54, 0.425, 0.42, 0.5, 0.444, 0.529, 0.588, 0.494, 0.671, 0.572, 0.53, 0.476, 0.52, 0.528, 0.557, 0.56,
  0.63, 0.624, 0.563, 0.602, 0.596, 0.587, 0.537, 0.55, 0.606, 0.606, 0.694, 0.628, 0.599, 0.6, 0.663, 0.606, 0.609, 0.546, 0.521, 0.426, 0.5, 0.507, 0.546, 0.537,
  0.603, 0.559, 0.535, 0.565, 0.599, 0.61, 0.579, 0.6, 0.595, 0.594, 0.604, 0.64, 0.64, 0.611, 0.653, 0.676, 0.668, 0.637, 0.673, 0.619, 0.624, 0.559, 0.639, 0.686,
  0.628, 0.579, 0.524, 0.592, 0.605, 0.603, 0.592, 0.576, 0.568, 0.612, 0.582, 0.588, 0.592, 0.569, 0.598, 0.536, 0.54, 0.627, 0.6, 0.553, 0.633, 0.589, 0.634, 0.684,
  0.668, 0.659, 0.591, 0.647, 0.625, 0.641, 0.639, 0.625, 0.656, 0.659, 0.677, 0.644, 0.622, 0.591, 0.648, 0.621, 0.657, 0.627, 0.592, 0.58, 0.578, 0.605, 0.578, 0.542,
  0.587, 0.555, 0.572, 0.578, 0.584, 0.562, 0.555, 0.624, 0.582, 0.59, 0.533, 0.54, 0.546, 0.517, 0.504, 0.54, 0.58, 0.562, 0.631, 0.588, 0.605, 0.57, 0.615, 0.652,
  0.602, 0.578, 0.548, 0.575, 0.614, 0.614, 0.586, 0.609, 0.609, 0.578, 0.58, 0.563, 0.562, 0.58, 0.578, 0.606, 0.572, 0.51, 0.572, 0.525, 0.6, 0.618, 0.67, 0.624,
  0.597, 0.633, 0.539, 0.576, 0.565, 0.606, 0.602, 0.598, 0.529, 0.556, 0.556, 0.522, 0.521, 0.512, 0.522, 0.539, 0.574, 0.58, 0.596, 0.605, 0.703, 0.729, 0.63, 0.63,
  0.654, 0.655, 0.665, 0.696, 0.653, 0.702, 0.674, 0.686, 0.703, 0.666, 0.56, 0.605, 0.627, 0.581, 0.58, 0.546, 0.52, 0.516, 0.513, 0.555, 0.488, 0.518, 0.55, 0.562,
  0.52, 0.524, 0.5, 0.521, 0.517, 0.499, 0.516, 0.615, 0.598, 0.6, 0.576, 0.552, 0.606, 0.57, 0.55, 0.543, 0.609, 0.627, 0.563, 0.568, 0.518, 0.468, 0.441, 0.431,
  0.488, 0.49, 0.549, 0.49, 0.512, 0.537, 0.595, 0.572, 0.627, 0.524, 0.606, 0.573, 0.556, 0.587, 0.58, 0.608, 0.565, 0.621, 0.608, 0.631, 0.534, 0.534, 0.513, 0.61,
  0.627, 0.595, 0.653, 0.58, 0.553, 0.553, 0.582, 0.598, 0.7, 0.68, 0.687, 0.689, 0.711, 0.647, 0.671, 0.736, 0.772, 0.737, 0.689, 0.737, 0.711, 0.575, 0.653, 0.63,
  0.64, 0.58, 0.697, 0.515, 0.427, 0.429, 0.429, 0.481, 0.539, 0.555, 0.543, 0.468, 0.476, 0.413, null, null, null, null, 0.425, null, 0.445, 0.438, 0.47, 0.457,
  null, 0.458, null, 0.486, 0.522,
]

const aucTrendDays = [1.05, 1.5, 1.93, 2.31, 2.73, 3.11, 3.5, 3.87, 4.35, 4.78, 5.16, 5.44, 5.87, 6.35, 6.82, 7.3, 7.96, 8.38, 8.73, 9.06, 9.39, 9.72, 10.05, 10.43, 10.8, 11.1, 11.48, 11.86, 12.14, 12.45, 12.67, 12.95, 13.19, 13.47, 13.76, 14.07]
const aucTrend = [0.52, 0.539, 0.56, 0.575, 0.581, 0.59, 0.605, 0.608, 0.607, 0.615, 0.619, 0.614, 0.592, 0.578, 0.578, 0.581, 0.584, 0.593, 0.608, 0.614, 0.596, 0.574, 0.555, 0.544, 0.541, 0.549, 0.572, 0.599, 0.622, 0.636, 0.628, 0.596, 0.549, 0.496, 0.445, 0.402]

function hourly(values: (number | null)[], errors?: number[]) {
  const out: { x: number; y: number; err?: number }[] = []
  values.forEach((v, i) => {
    if (v != null) out.push({ x: 1 + i / 24, y: v, err: errors ? errors[i] : undefined })
  })
  return out
}

function paired(days: number[], values: number[]) {
  return days.map((x, i) => ({ x, y: values[i] }))
}

// turn spans and bursts into consecutive widths for one stacked bar per patient
function buildRows(spans: number[][], bursts: number[][]) {
  let most = 0
  const rows = spans.map(([start, end], row) => {
    const flat = bursts[row] || []
    const entry: Record<string, number | string> = { row }
    let n = 0
    const push = (w: number, c: string) => {
      if (w <= 0) return
      entry[`w${n}`] = w
      entry[`c${n}`] = c
      n += 1
    }
    let at = start
    push(start, 'none')
    for (let i = 0; i < flat.length; i += 3) {
      const a = Math.max(flat[i], at)
      const b = Math.min(flat[i + 1], end)
      if (b <= a) continue
      push(a - at, BASE_BAR)
      push(b - a, LEVELS[flat[i + 2]])
      at = b
    }
    push(end - at, BASE_BAR)
    most = Math.max(most, n)
    return entry
  })
  return { rows, most }
}

function segmentShape(i: number) {
  return (p: any) => {
    const fill = p.payload[`c${i}`]
    if (!fill || fill === 'none' || !p.width) return null
    return <rect x={p.x} y={p.y} width={p.width} height={p.height} fill={fill} shapeRendering="crispEdges" />
  }
}

function PatientPanel(props: {
  spans: number[][]
  bursts: number[][]
  left: number
  width: number
  labelShift: number
}) {
  const { rows, most } = buildRows(props.spans, props.bursts)
  const keys = Array.from({ length: most }, (_, i) => i)
  return (
    <div style={{ position: 'absolute', left: props.left, top: 0, filter: 'blur(0.4px)' }}>
      <BarChart
        width={props.width}
        height={430}
        layout="vertical"
        data={rows}
        barCategoryGap={0}
        margin={{ top: 27, right: 20, bottom: 38, left: 0 }}
      >
        <XAxis
          type="number"
          domain={[0, 15]}
          ticks={dayTicksA}
          allowDataOverflow
          height={40}
          stroke={AXIS_GRAY}
          tickSize={-4}
          tickMargin={24}
          tick={{ fill: '#111', fontSize: 20, fontFamily: HUMANIST }}
          label={{
            value: 'Time (days after SAH)',
            position: 'bottom',
            offset: 11,
            dx: props.labelShift,
            style: { fill: '#111', fontSize: 21.8, fontFamily: HUMANIST },
          }}
        />
        <YAxis
          type="category"
          dataKey="row"
          width={80}
          ticks={leftPatientTicks}
          interval={0}
          tick={() => <g />}
          tickSize={4}
          stroke={AXIS_GRAY}
        />
        {keys.map((i) => (
          <Bar key={i} dataKey={`w${i}`} stackId="a" isAnimationActive={false} shape={segmentShape(i)} />
        ))}
      </BarChart>
    </div>
  )
}

function Dot(props: any) {
  return <circle cx={props.cx} cy={props.cy} r={2.2} fill={props.fill} />
}

function Tick160(props: any) {
  return <rect x={props.cx - 1.5} y={props.cy - 7} width={3} height={14} fill="#000" />
}

function Asterisk(props: any) {
  const { cx, cy } = props
  const r = 5
  const d = r * 0.71
  return (
    <g stroke="#222" strokeWidth={1.1}>
      <line x1={cx - r} y1={cy} x2={cx + r} y2={cy} />
      <line x1={cx} y1={cy - r} x2={cx} y2={cy + r} />
      <line x1={cx - d} y1={cy - d} x2={cx + d} y2={cy + d} />
      <line x1={cx - d} y1={cy + d} x2={cx + d} y2={cy - d} />
      <circle cx={cx} cy={cy} r={1.3} fill="#000" stroke="none" />
    </g>
  )
}

const tickStyle = { fill: '#262626', fontSize: 16, fontFamily: SANS }
const axisStroke = { stroke: AXIS_GRAY, strokeWidth: 1.5 }

function Title(props: { top: number; center: number; text: string }) {
  return (
    <div
      style={{
        position: 'absolute',
        top: props.top,
        left: props.center - 400,
        width: 800,
        textAlign: 'center',
        fontFamily: SANS,
        fontWeight: 700,
        fontSize: 28.1,
        lineHeight: '32px',
        color: '#111',
      }}
    >
      {props.text}
    </div>
  )
}

function Letter(props: { top: number; left: number; text: string }) {
  return (
    <div
      style={{
        position: 'absolute',
        top: props.top,
        left: props.left,
        fontFamily: SANS,
        fontWeight: 700,
        fontSize: 35,
        color: '#111',
      }}
    >
      {props.text}
    </div>
  )
}

export default function App() {
  return (
    <div style={{ position: 'absolute', left: 0, top: 0, width: 1191, height: 1355, background: '#fff', overflow: 'hidden' }}>
      <PatientPanel spans={leftSpans} bursts={leftBursts} left={30} width={598} labelShift={1} />
      <PatientPanel spans={rightSpans} bursts={rightBursts} left={587.6} width={597.4} labelShift={8} />
      <div
        style={{
          position: 'absolute',
          left: 80,
          top: 190,
          transform: 'translate(-50%, -50%) rotate(-90deg)',
          fontFamily: HUMANIST,
          fontSize: 24,
          color: '#111',
        }}
      >
        Patient
      </div>

      <div style={{ position: 'absolute', left: 0, top: 460 }}>
        <ComposedChart width={1191} height={430} margin={{ top: 19, right: 84, bottom: 32, left: 65 }}>
          <XAxis
            type="number"
            dataKey="x"
            domain={[1, 15]}
            ticks={dayTicks}
            allowDataOverflow
            height={40}
            tickSize={10}
            tickMargin={12}
            axisLine={axisStroke}
            tickLine={axisStroke}
            tick={tickStyle}
            label={{
              value: 'Time (days after SAH)',
              position: 'bottom',
              offset: 5,
              style: { fill: '#262626', fontSize: 18.3, fontFamily: SANS },
            }}
          />
          <YAxis
            type="number"
            dataKey="y"
            domain={[0, 180]}
            ticks={burdenTicks}
            allowDataOverflow
            width={60}
            tickSize={10}
            tickMargin={7}
            axisLine={axisStroke}
            tickLine={axisStroke}
            tick={tickStyle}
          />
          <Scatter data={hourly(redBurden, redError)} fill="#f00" isAnimationActive={false} shape={Dot}>
            <ErrorBar dataKey="err" direction="y" width={5} stroke="#f00" strokeOpacity={0.7} strokeWidth={1.2} isAnimationActive={false} />
          </Scatter>
          <Scatter data={hourly(blueBurden, blueError)} fill="#00f" isAnimationActive={false} shape={Dot}>
            <ErrorBar dataKey="err" direction="y" width={5} stroke="#00f" strokeOpacity={0.7} strokeWidth={1.2} isAnimationActive={false} />
          </Scatter>
          <Line data={paired(redTrendDays, redTrend)} dataKey="y" type="basis" stroke="#f00" strokeWidth={4} dot={false} isAnimationActive={false} />
          <Line data={paired(blueTrendDays, blueTrend)} dataKey="y" type="basis" stroke="#00f" strokeWidth={4} dot={false} isAnimationActive={false} />
          <Scatter data={significantDays.map((x) => ({ x, y: 160 }))} isAnimationActive={false} shape={Tick160} />
        </ComposedChart>
      </div>
      <div
        style={{
          position: 'absolute',
          left: 57,
          top: 658,
          transform: 'translate(-50%, -50%) rotate(-90deg)',
          whiteSpace: 'nowrap',
          fontFamily: SANS,
          fontSize: 23.4,
          color: '#111',
        }}
      >
        Discharge Burden (spks/hr)
      </div>

      <div style={{ position: 'absolute', left: 0, top: 920 }}>
        <ComposedChart width={1191} height={435} margin={{ top: 34, right: 84, bottom: 22, left: 65 }}>
          <XAxis
            type="number"
            dataKey="x"
            domain={[1, 15]}
            ticks={dayTicks}
            allowDataOverflow
            height={40}
            tickSize={10}
            tickMargin={12}
            axisLine={axisStroke}
            tickLine={axisStroke}
            tick={tickStyle}
            label={{
              value: 'Days after SAH',
              position: 'bottom',
              offset: 5,
              style: { fill: '#262626', fontSize: 18.2, fontFamily: SANS },
            }}
          />
          <YAxis
            type="number"
            dataKey="y"
            domain={[0.4, 1]}
            ticks={aucTicks}
            allowDataOverflow
            width={60}
            tickSize={10}
            tickMargin={7}
            axisLine={axisStroke}
            tickLine={axisStroke}
            tick={tickStyle}
          />
          <ReferenceLine y={0.5} stroke="#000" strokeWidth={2.5} strokeDasharray="2.5 2.5" />
          <Scatter data={hourly(hourlyAuc)} isAnimationActive={false} shape={Asterisk} />
          <Line data={paired(aucTrendDays, aucTrend)} dataKey="y" type="basis" stroke="#000" strokeWidth={4} dot={false} isAnimationActive={false} />
        </ComposedChart>
      </div>
      <div
        style={{
          position: 'absolute',
          left: 70,
          top: 1124,
          transform: 'translate(-50%, -50%) rotate(-90deg)',
          fontFamily: SANS,
          fontSize: 18,
          color: '#262626',
        }}
      >
        AUC
      </div>
      <div style={{ position: 'absolute', left: 318, top: 1085, fontFamily: SANS, fontSize: 20, color: '#222' }}>0.62</div>

      <Title top={460} center={594} text="Discharge Burden After SAH" />
      <Title top={919} center={635} text="Hourly AUC of Discharge Burden as Predictor of DCI" />
      <Letter top={0} left={11} text="a" />
      <Letter top={461} left={11} text="b" />
      <Letter top={934} left={9} text="c" />
    </div>
  )
}
